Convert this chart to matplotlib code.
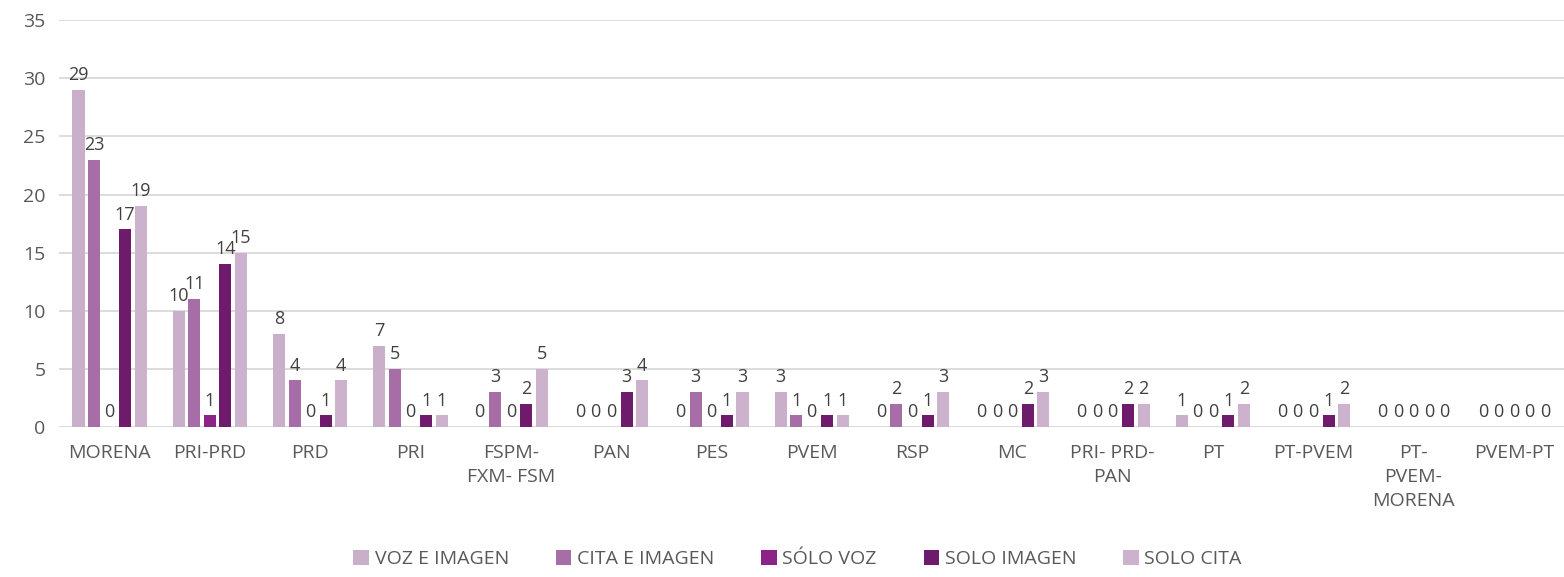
import numpy as np
import matplotlib.pyplot as plt

plt.rcParams['font.family'] = ['Open Sans', 'DejaVu Sans']

partidos = ['MORENA', 'PRI-PRD', 'PRD', 'PRI', 'FSPM-\nFXM- FSM', 'PAN', 'PES', 'PVEM',
            'RSP', 'MC', 'PRI- PRD-\nPAN', 'PT', 'PT-PVEM', 'PT-\nPVEM-\nMORENA', 'PVEM-PT']

voz_imagen = [29, 10, 8, 7, 0, 0, 0, 3, 0, 0, 0, 1, 0, 0, 0]
cita_imagen = [23, 11, 4, 5, 3, 0, 3, 1, 2, 0, 0, 0, 0, 0, 0]
solo_voz = [0, 1, 0, 0, 0, 0, 0, 0, 0, 0, 0, 0, 0, 0, 0]
solo_imagen = [17, 14, 1, 1, 2, 3, 1, 1, 1, 2, 2, 1, 1, 0, 0]
solo_cita = [19, 15, 4, 1, 5, 4, 3, 1, 3, 3, 2, 2, 2, 0, 0]

series = [voz_imagen, cita_imagen, solo_voz, solo_imagen, solo_cita]
nombres = ['VOZ E IMAGEN', 'CITA E IMAGEN', 'SÓLO VOZ', 'SOLO IMAGEN', 'SOLO CITA']
colores = ['#C9AFC9', '#A66DA6', '#8B2389', '#6F1B6C', '#CDB2CD']

fig = plt.figure(figsize=(15.64, 5.77), dpi=100)
ax = fig.add_axes([0.038, 0.26, 0.962, 0.705])

x = np.arange(len(partidos))
paso = 0.155
ancho = 0.12
for i, (vals, nom, col) in enumerate(zip(series, nombres, colores)):
    pos = x + (i - 2) * paso
    ax.bar(pos, vals, width=ancho, color=col, label=nom, zorder=3)
    for p, v in zip(pos, vals):
        ax.text(p, v + 0.5, str(v), ha='center', va='bottom', fontsize=13, color='#404040')

ax.set_xlim(-0.5, len(partidos) - 0.5)
ax.set_ylim(0, 35)
ax.set_yticks(range(0, 36, 5))
ax.yaxis.grid(True, color='#D9D9D9', linewidth=1.3)
ax.set_axisbelow(True)
for s in ax.spines.values():
    s.set_visible(False)
ax.tick_params(axis='both', length=0, labelsize=14, colors='#595959')
ax.tick_params(axis='x', pad=12)
ax.tick_params(axis='y', pad=10)
ax.set_xticks(x)
ax.set_xticklabels(partidos, va='top', linespacing=1.45)

fig.legend(loc='lower center', bbox_to_anchor=(0.51, -0.015), ncol=5, frameon=False,
           fontsize=14, handlelength=0.8, handleheight=0.8, columnspacing=2.4,
           handletextpad=0.3, labelcolor='#595959')

fig.savefig('out.png', dpi=100)
